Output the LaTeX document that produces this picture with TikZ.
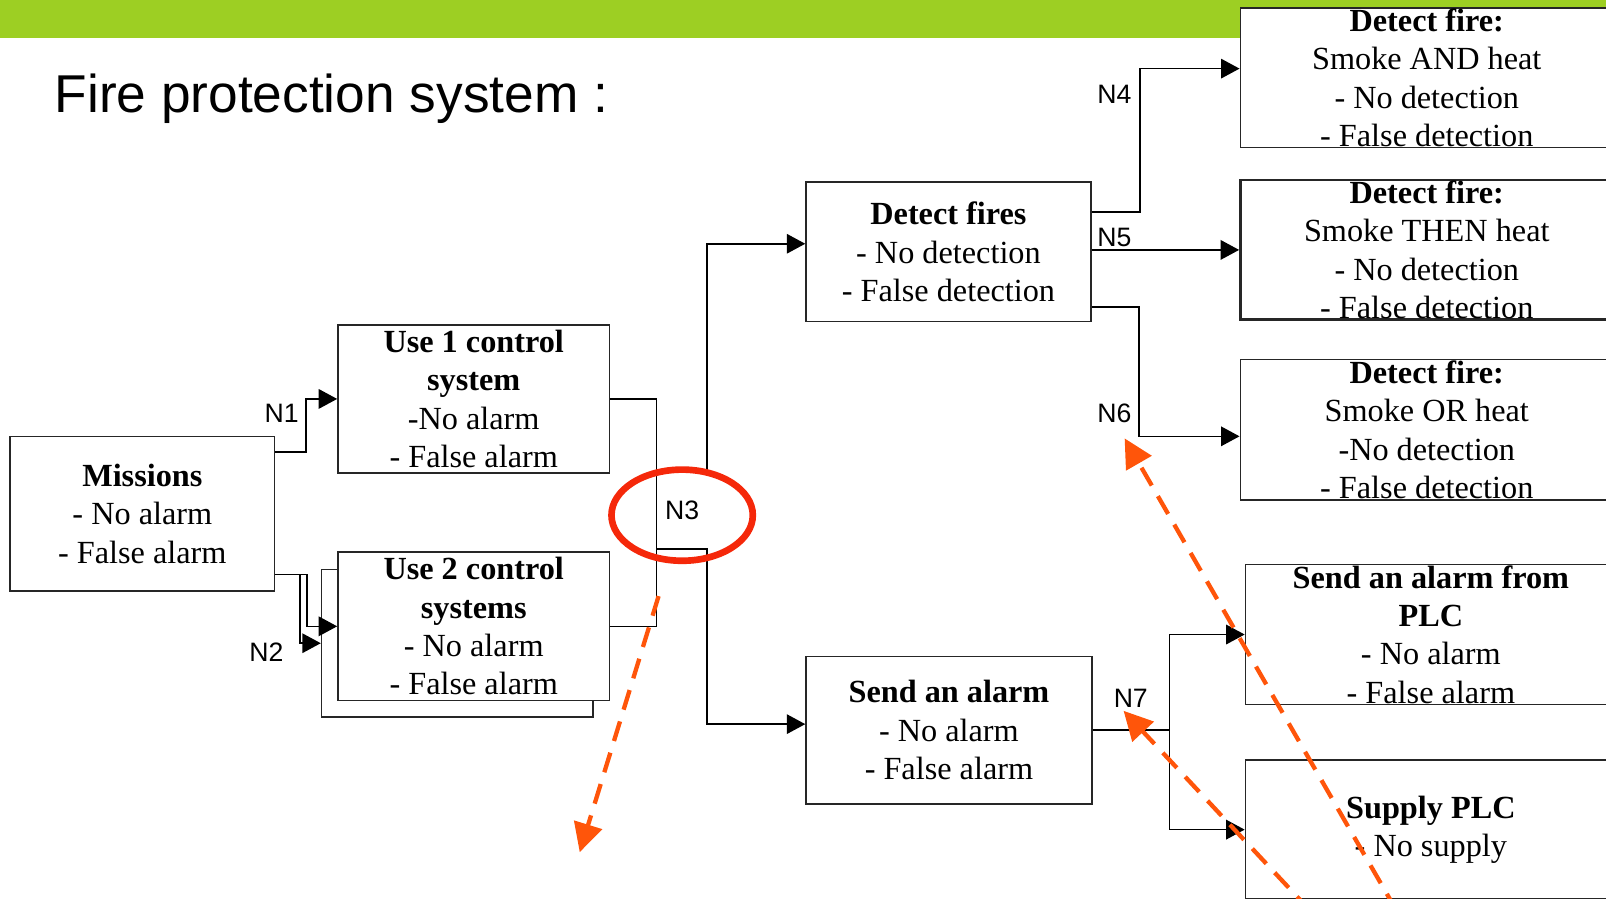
\documentclass[tikz,border=0pt]{standalone}
\usepackage{fontspec}
\newfontfamily\boxserif{Liberation Serif}
\newfontfamily\labelsans{Liberation Sans}
\usetikzlibrary{arrows.meta,shapes.geometric}
\definecolor{barGreen}{RGB}{157,207,35}
\definecolor{ringRed}{RGB}{245,40,10}
\definecolor{hintOrange}{RGB}{255,85,10}

\begin{document}
\begin{tikzpicture}[x=0.5pt,y=-0.5pt,
  box/.style={draw=black!85, line width=0.8pt, fill=white, inner sep=0pt},
  boxtext/.style={align=center, inner sep=0pt, font=\boxserif\fontsize{15.75pt}{18.75pt}\selectfont},
  link/.style={draw=black, line width=0.8pt},
  arr/.style={link, -{Triangle[length=9pt,width=9.5pt]}},
  nlabel/.style={font=\labelsans\fontsize{13pt}{15pt}\selectfont, inner sep=0pt},
  hint/.style={draw=hintOrange, line width=2.1pt, dash pattern=on 10pt off 6pt,
               -{Triangle[length=14pt,width=14pt]}},
]
\useasboundingbox (0,0) rectangle (1568,877);
\clip (0,0) rectangle (1568,877);

% header bar and title
\fill[barGreen] (0,0) rectangle (1568,37);
\node[anchor=base west, inner sep=0pt, font=\labelsans\fontsize{26pt}{30pt}\selectfont]
  (title) at (53,110) {Fire protection system :};

% boxes
\node[box, minimum width=129pt, minimum height=75.5pt] (miss) at (139,501.5) {};
\node[boxtext] (miss-t) at (miss) {\textbf{Missions}\\- No alarm\\- False alarm};

\node[box, minimum width=132.5pt, minimum height=72.5pt] (use1) at (462.5,389.5) {};
\node[boxtext] (use1-t) at (use1) {\textbf{Use 1 control}\\\textbf{system}\\-No alarm\\- False alarm};

\node[box, minimum width=132.5pt, minimum height=72pt] (use2b) at (446.5,628) {};
\node[box, minimum width=132.5pt, minimum height=72.5pt] (use2) at (462.5,611.5) {};
\node[boxtext] (use2-t) at (use2) {\textbf{Use 2 control}\\\textbf{systems}\\- No alarm\\- False alarm};

\node[box, minimum width=139pt, minimum height=68pt] (fires) at (926,246) {};
\node[boxtext] (fires-t) at (fires) {\textbf{Detect fires}\\- No detection\\- False detection};

\node[box, minimum width=139.5pt, minimum height=72pt] (send) at (926.5,713) {};
\node[boxtext] (send-t) at (send) {\textbf{Send an alarm}\\- No alarm\\- False alarm};

\node[box, minimum width=182pt, minimum height=68pt] (dAnd) at (1393,76) {};
\node[boxtext] (dAnd-t) at (dAnd) {\textbf{Detect fire:}\\Smoke AND heat\\- No detection\\- False detection};

\node[box, line width=1.2pt, minimum width=182pt, minimum height=68pt] (dThen) at (1393,244) {};
\node[boxtext] (dThen-t) at (dThen) {\textbf{Detect fire:}\\Smoke THEN heat\\- No detection\\- False detection};

\node[box, minimum width=182pt, minimum height=68.5pt] (dOr) at (1393,419.5) {};
\node[boxtext] (dOr-t) at (dOr) {\textbf{Detect fire:}\\Smoke OR heat\\-No detection\\- False detection};

\node[box, minimum width=181pt, minimum height=68.5pt] (plc) at (1397,619.5) {};
\node[boxtext] (plc-t) at (plc) {\textbf{Send an alarm from}\\\textbf{PLC}\\- No alarm\\- False alarm};

\node[box, minimum width=181pt, minimum height=68pt] (supply) at (1397,810) {};
\node[boxtext] (supply-t) at (supply) {\textbf{Supply PLC}\\- No supply};

% connectors from the missions
\draw[arr] ([yshift=30.25pt]miss.east) -- ++(30,0) |- (use1.west);
\draw[arr] ([yshift=-29.75pt]miss.east) -- ++(31,0) |- (use2.west);
\draw[arr] ([yshift=-29.75pt]miss.east) -- ++(24,0) |- (use2b.west);

% junction N3
\coordinate (j3) at (641,536);
\coordinate (k3) at (690,536);
\coordinate (k3top) at (690,460);
\draw[link] (use1.east) -| (j3);
\draw[link] (use2.east) -| (j3);
\draw[arr] (j3) -- (k3) |- ([yshift=3pt]send.west);
\draw[arr] (k3top) |- ([yshift=4pt]fires.west);

% fire detection branches
\draw[arr] ([yshift=19.5pt]fires.east) -- ++(47,0) |- ([yshift=4.5pt]dAnd.west);
\draw[arr] (fires.east |- dThen.west) -- (dThen.west);
\draw[arr] ([yshift=-27pt]fires.east) -- ++(46,0) |- ([yshift=-3.25pt]dOr.west);

% alarm branches
\draw[link] (send.east) -- ++(75,0) coordinate (j7);
\draw[arr] (j7) |- (plc.west);
\draw[arr] (j7) |- (supply.west);

% node labels
\node[nlabel] (n1) at (275,404) {N1};
\node[nlabel] (n2) at (260,637) {N2};
\node[nlabel] (n3) at (666,498) {N3};
\node[nlabel] (n4) at (1088,92) {N4};
\node[nlabel] (n5) at (1088,232) {N5};
\node[nlabel] (n6) at (1088,404) {N6};
\node[nlabel] (n7) at (1104,682) {N7};

% highlight ring and hint arrows
\node[ellipse, draw=ringRed, line width=3.25pt, minimum width=69pt, minimum height=44.5pt,
      inner sep=0pt] (ring) at (666,503) {};
\coordinate (h1s) at (643,582);
\coordinate (h1e) at (566,832);
\coordinate (h2s) at (1364,890);
\coordinate (h2e) at (1098,428);
\coordinate (h3s) at (1280,890);
\coordinate (h3e) at (1097,694);
\draw[hint] (h1s) -- (h1e);
\draw[hint] (h2s) -- (h2e);
\draw[hint] (h3s) -- (h3e);
\end{tikzpicture}
\end{document}
